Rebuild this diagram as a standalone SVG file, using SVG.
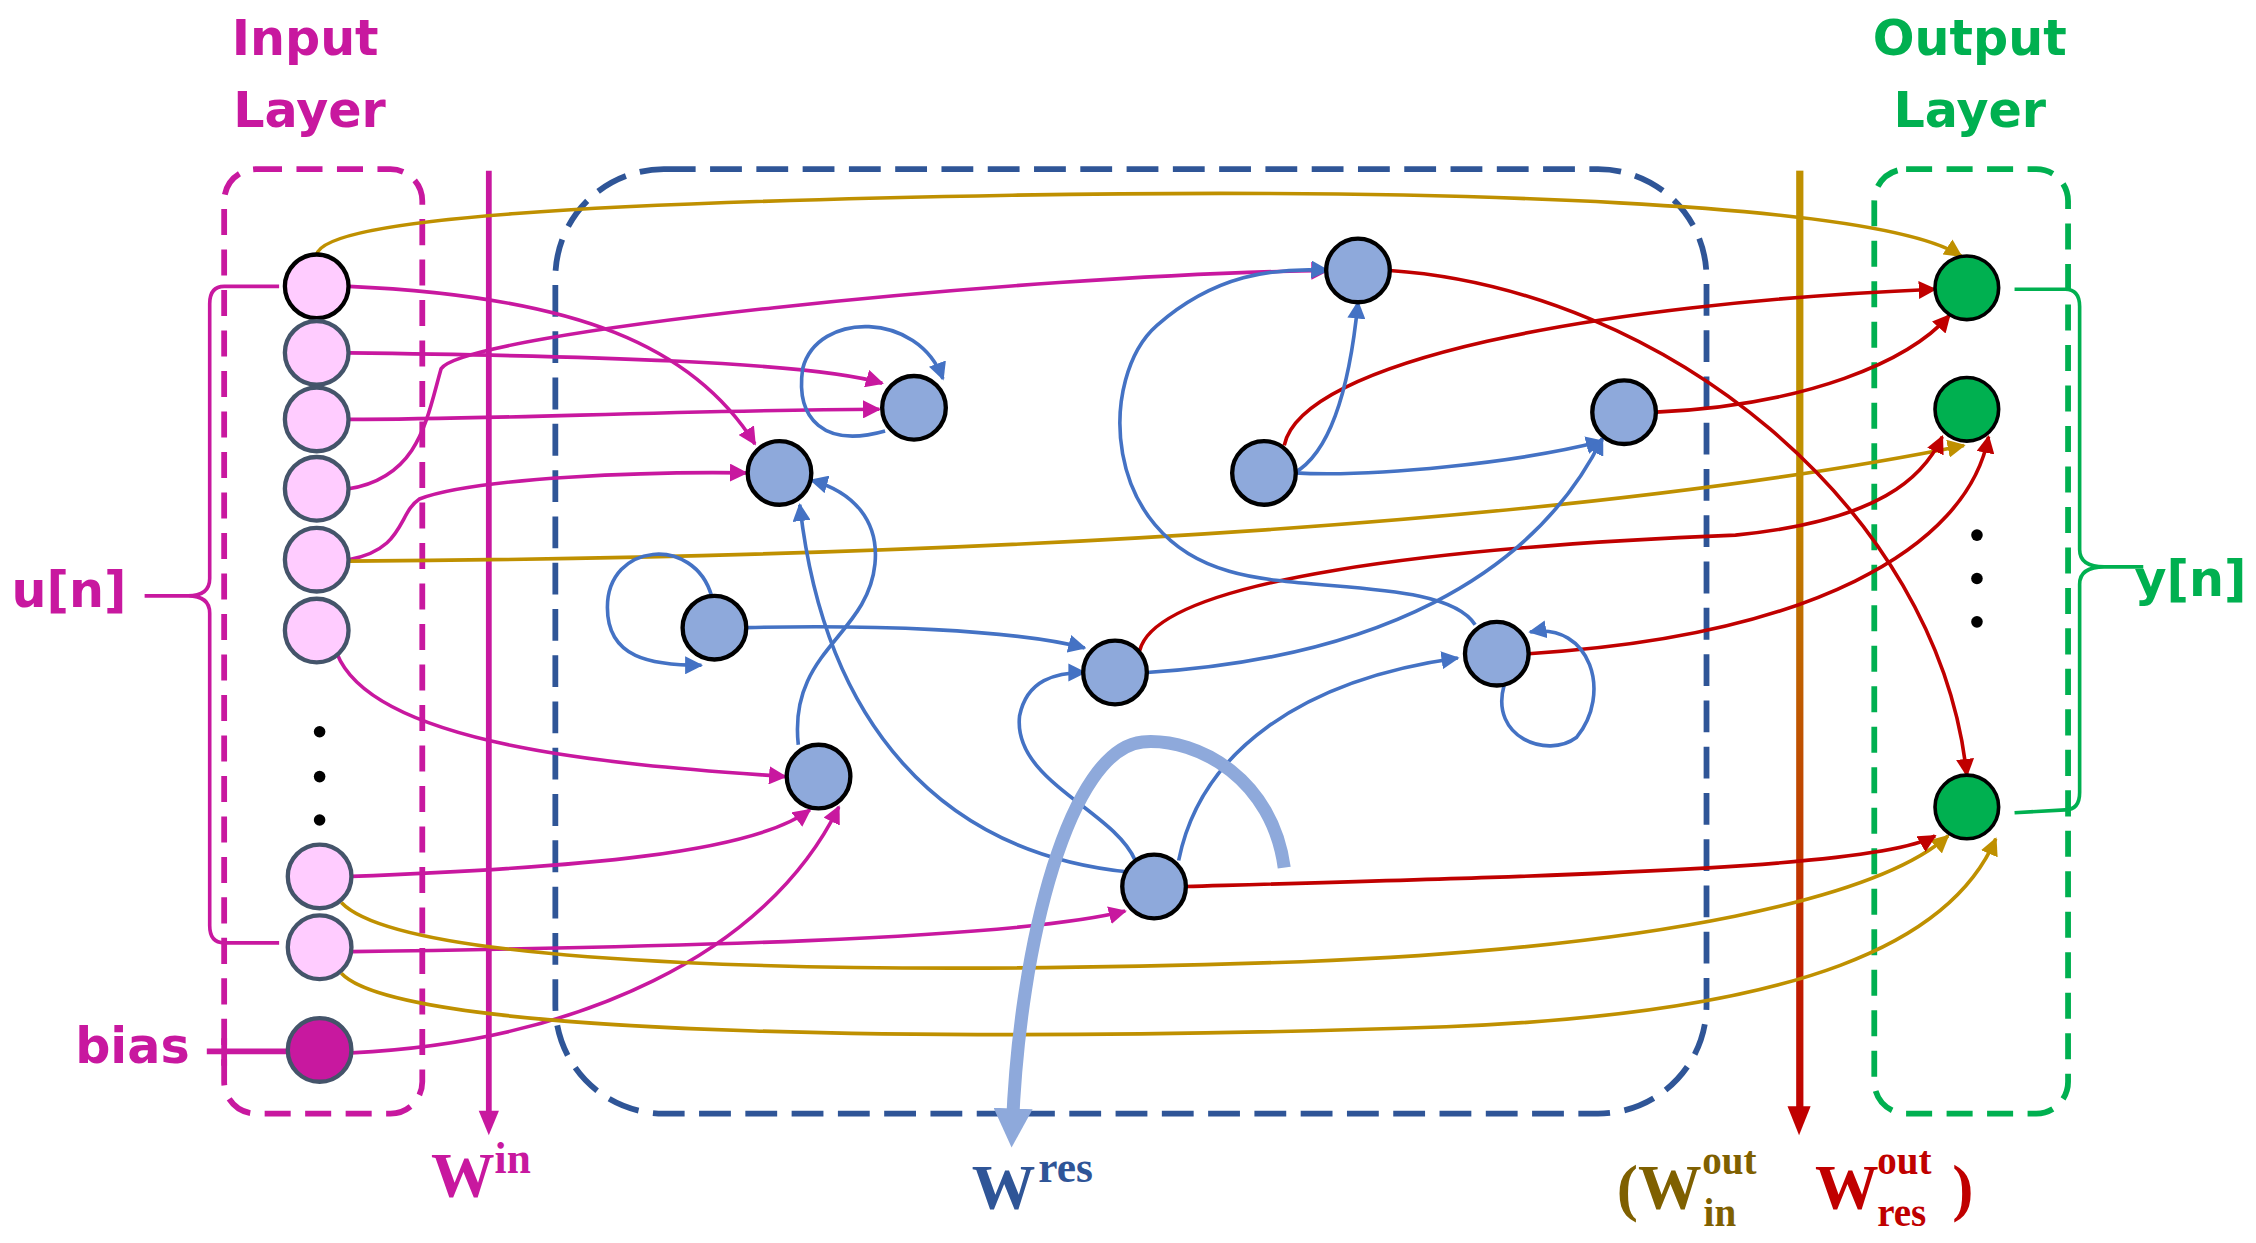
<svg xmlns="http://www.w3.org/2000/svg" width="2256" height="1243" viewBox="0 0 2256 1243">
<defs>
<style>
.m{fill:none;stroke:#C8189F;stroke-width:2.5}
.g{fill:none;stroke:#BF9000;stroke-width:2.5}
.r{fill:none;stroke:#C00000;stroke-width:2.5}
.b{fill:none;stroke:#4472C4;stroke-width:2.5}
.inn{fill:#FFCCFF;stroke:#44546A;stroke-width:3}
.res{fill:#8EA9DB;stroke:#000;stroke-width:3}
.out{fill:#00B050;stroke:#000;stroke-width:2.5}
.lbl{font-family:"DejaVu Sans",sans-serif;font-weight:bold;font-size:34px}
.ser{font-family:"Liberation Serif",serif;font-weight:bold}
</style>
<marker id="am" viewBox="0 0 10 10" refX="9" refY="5" markerWidth="5" markerHeight="5" orient="auto"><path d="M0,0L10,5L0,10z" fill="#C8189F"/></marker>
<marker id="ag" viewBox="0 0 10 10" refX="9" refY="5" markerWidth="5" markerHeight="5" orient="auto"><path d="M0,0L10,5L0,10z" fill="#BF9000"/></marker>
<marker id="ar" viewBox="0 0 10 10" refX="9" refY="5" markerWidth="5" markerHeight="5" orient="auto"><path d="M0,0L10,5L0,10z" fill="#C00000"/></marker>
<marker id="ab" viewBox="0 0 10 10" refX="9" refY="5" markerWidth="5" markerHeight="5" orient="auto"><path d="M0,0L10,5L0,10z" fill="#4472C4"/></marker>
<marker id="alb" viewBox="0 0 10 10" refX="5" refY="5" markerWidth="3" markerHeight="3" orient="auto"><path d="M0,0L10,5L0,10z" fill="#8EA9DB"/></marker>
<linearGradient id="wg" x1="0" y1="0" x2="0" y2="1"><stop offset="0.3" stop-color="#BF9000"/><stop offset="1" stop-color="#C00000"/></linearGradient>
</defs>
<rect width="2256" height="1243" fill="#fff"/>
<g transform="scale(1.4462)">
<g id="frames">
<rect x="155" y="117" width="137" height="653" rx="22" fill="none" stroke="#C8189F" stroke-width="4" stroke-dasharray="18,10"/>
<rect x="384" y="117" width="796" height="653" rx="75" fill="none" stroke="#2F5597" stroke-width="4" stroke-dasharray="22,10"/>
<rect x="1296" y="117" width="134" height="653" rx="22" fill="none" stroke="#00B050" stroke-width="4" stroke-dasharray="18,10"/>
<line x1="338" y1="118" x2="338" y2="770" stroke="#C8189F" stroke-width="4"/>
<path d="M331,768L345,768L338,785z" fill="#C8189F"/>
<rect x="1242" y="118" width="5" height="652" fill="url(#wg)"/>
<path d="M1236,765L1252,765L1244,785z" fill="#C00000"/>
</g>
<g id="labels">
<text class="lbl" x="211" y="38" text-anchor="middle" fill="#C8189F">Input</text>
<text class="lbl" x="214" y="88" text-anchor="middle" fill="#C8189F">Layer</text>
<text class="lbl" x="1362" y="38" text-anchor="middle" fill="#00B050">Output</text>
<text class="lbl" x="1362" y="88" text-anchor="middle" fill="#00B050">Layer</text>
<text class="lbl" x="8" y="420" fill="#C8189F">u[n]</text>
<text class="lbl" x="52" y="735" fill="#C8189F">bias</text>
<text class="lbl" x="1476" y="412" fill="#00B050">y[n]</text>
<text class="ser" x="298" y="828" font-size="44" fill="#C8189F">W</text>
<text class="ser" x="342" y="811" font-size="30" fill="#C8189F">in</text>
<text class="ser" x="672" y="836" font-size="44" fill="#2F5597">W</text>
<text class="ser" x="718" y="817" font-size="30" fill="#2F5597">res</text>
<text class="ser" x="1118" y="836" font-size="44" fill="#7F6000">(W</text>
<text class="ser" x="1177" y="812" font-size="27" fill="#7F6000">out</text>
<text class="ser" x="1178" y="848" font-size="27" fill="#7F6000">in</text>
<text class="ser" x="1255" y="836" font-size="44" fill="#C00000">W</text>
<text class="ser" x="1298" y="812" font-size="27" fill="#C00000">out</text>
<text class="ser" x="1298" y="848" font-size="27" fill="#C00000">res</text>
<text class="ser" x="1350" y="836" font-size="44" fill="#C00000">)</text>
</g>
<g id="braces" fill="none" stroke-width="2.5">
<path d="M193,198L155,198Q145,198 145,210L145,400Q145,412 130,412L100,412M130,412Q145,412 145,424L145,640Q145,652 155,652L193,652" stroke="#C8189F"/>
<path d="M1393,200L1428,200Q1438,200 1438,212L1438,380Q1438,392 1455,392L1482,392M1455,392Q1438,392 1438,404L1438,548Q1438,560 1428,560L1393,562" stroke="#00B050"/>
<path d="M143,727L198,727M155,718L155,737" stroke="#C8189F" stroke-width="4"/>
</g>
<g id="connectors">
<path class="m" marker-end="url(#am)" d="M241,198C400,205 480,240 522,307"/>
<path class="m" marker-end="url(#am)" d="M241,244C400,246 560,250 610,265"/>
<path class="m" marker-end="url(#am)" d="M241,290C350,290 450,284 608,283"/>
<path class="m" marker-end="url(#am)" d="M241,338C290,330 295,290 305,255C320,230 700,190 918,187"/>
<path class="m" marker-end="url(#am)" d="M241,387C280,380 275,355 290,345C330,330 450,326 516,327"/>
<path class="m" marker-end="url(#am)" d="M233,452C260,520 450,530 543,537"/>
<path class="m" marker-end="url(#am)" d="M243,606C400,600 520,590 560,560"/>
<path class="m" marker-end="url(#am)" d="M243,658C450,655 700,650 778,630"/>
<path class="m" marker-end="url(#am)" d="M243,728C400,720 530,660 580,558"/>
<path class="g" marker-end="url(#ag)" d="M219,176C225,150 420,140 700,135C1000,130 1300,140 1356,177"/>
<path class="g" marker-end="url(#ag)" d="M241,388C700,385 1100,360 1358,308"/>
<path class="g" marker-end="url(#ag)" d="M236,624C280,670 600,675 900,665C1150,655 1300,620 1347,578"/>
<path class="g" marker-end="url(#ag)" d="M236,673C280,720 700,720 1000,710C1250,700 1350,650 1380,580"/>
<path class="r" marker-end="url(#ar)" d="M961,187C1150,200 1340,350 1360,536"/>
<path class="r" marker-end="url(#ar)" d="M888,308C900,250 1100,210 1338,200"/>
<path class="r" marker-end="url(#ar)" d="M1145,285C1250,280 1320,250 1348,218"/>
<path class="r" marker-end="url(#ar)" d="M788,450C800,400 1000,378 1200,370C1300,360 1330,330 1343,302"/>
<path class="r" marker-end="url(#ar)" d="M1057,452C1250,440 1360,380 1375,302"/>
<path class="r" marker-end="url(#ar)" d="M820,613C1100,605 1300,600 1338,578"/>
<path class="b" marker-end="url(#ab)" d="M612,298C570,310 550,290 555,255C565,215 635,215 652,262"/>
<path class="b" marker-end="url(#ab)" d="M492,412C480,370 420,375 420,420C420,455 450,460 485,460"/>
<path class="b" marker-end="url(#ab)" d="M552,515C545,450 600,440 605,390C608,360 590,340 561,332"/>
<path class="b" marker-end="url(#ab)" d="M781,603C650,590 570,500 553,349"/>
<path class="b" marker-end="url(#ab)" d="M516,434C600,432 700,435 750,448"/>
<path class="b" marker-end="url(#ab)" d="M785,595C770,560 700,540 705,495C710,470 730,465 750,465"/>
<path class="b" marker-end="url(#ab)" d="M815,595C830,520 900,470 1008,455"/>
<path class="b" marker-end="url(#ab)" d="M895,327C925,310 935,250 939,209"/>
<path class="b" marker-end="url(#ab)" d="M895,327C950,330 1050,320 1108,305"/>
<path class="b" marker-end="url(#ab)" d="M793,465C950,455 1060,400 1108,303"/>
<path class="b" marker-end="url(#ab)" d="M1020,432C1000,400 900,410 850,395C760,370 760,260 800,225C840,190 880,185 918,187"/>
<path class="b" marker-end="url(#ab)" d="M1040,474C1030,510 1070,525 1090,510C1115,480 1100,430 1058,437"/>
<path fill="none" stroke="#8EA9DB" stroke-width="9" marker-end="url(#alb)" d="M888,600C880,540 830,510 790,513C740,518 705,650 700,780"/>
</g>
<g id="input-nodes">
<circle class="inn" cx="219" cy="198" r="22" style="stroke:#000"/>
<circle class="inn" cx="219" cy="244" r="22"/>
<circle class="inn" cx="219" cy="290" r="22"/>
<circle class="inn" cx="219" cy="338" r="22"/>
<circle class="inn" cx="219" cy="387" r="22"/>
<circle class="inn" cx="219" cy="436" r="22"/>
<circle class="inn" cx="221" cy="606" r="22"/>
<circle class="inn" cx="221" cy="655" r="22"/>
<circle cx="221" cy="726" r="22" fill="#C8189F" stroke="#44546A" stroke-width="3"/>
<circle cx="221" cy="506" r="4"/><circle cx="221" cy="537" r="4"/><circle cx="221" cy="567" r="4"/>
</g>
<g id="reservoir-nodes">
<circle class="res" cx="632" cy="282" r="22"/>
<circle class="res" cx="539" cy="327" r="22"/>
<circle class="res" cx="494" cy="434" r="22"/>
<circle class="res" cx="566" cy="537" r="22"/>
<circle class="res" cx="771" cy="465" r="22"/>
<circle class="res" cx="798" cy="613" r="22"/>
<circle class="res" cx="939" cy="187" r="22"/>
<circle class="res" cx="874" cy="327" r="22"/>
<circle class="res" cx="1123" cy="285" r="22"/>
<circle class="res" cx="1035" cy="452" r="22"/>
</g>
<g id="output-nodes">
<circle class="out" cx="1360" cy="199" r="22"/>
<circle class="out" cx="1360" cy="283" r="22"/>
<circle class="out" cx="1360" cy="558" r="22"/>
<circle cx="1367" cy="370" r="4"/><circle cx="1367" cy="400" r="4"/><circle cx="1367" cy="430" r="4"/>
</g>
</g>
</svg>
